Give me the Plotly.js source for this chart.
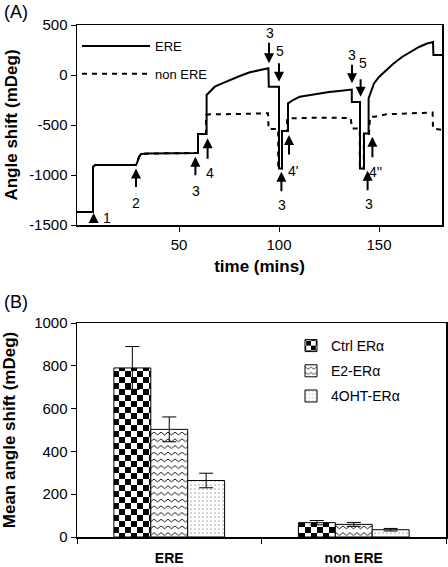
<!DOCTYPE html>
<html>
<head>
<meta charset="utf-8">
<script src="https://cdn.plot.ly/plotly-3.0.1.min.js"></script>
<style>
  html, body { margin: 0; padding: 0; background: #fff; }
  #chart { width: 448px; height: 567px; }
</style>
</head>
<body>
<div id="chart"></div>
<script>
// ---------- Panel A data (time in mins, angle shift in mDeg) ----------
const ereTime = [-1, 7, 7, 8, 28.5, 29, 30, 31, 35, 45, 59.5, 59.5, 63.8, 63.8, 65.4, 67.9, 70.4, 75.4, 80.4, 85.4, 90.4, 94.7, 94.9, 100, 100, 101.5, 101.5, 104.5, 104.5, 107, 110.4, 115, 120, 125, 130, 135, 136.4, 136.4, 140.5, 140.5, 142.5, 142.5, 144.8, 144.8, 147.5, 150, 153.5, 157, 161.5, 166, 170, 174, 177, 177.2, 181.5];
const ereShift = [-1370, -1370, -920, -900, -900, -880, -820, -790, -785, -780, -780, -590, -590, -200, -167, -117, -93, -50, -10, 27, 50, 67, -117, -117, -935, -935, -560, -560, -283, -250, -217, -200, -185, -170, -160, -145, -145, -270, -270, -935, -935, -585, -585, -235, -85, -20, 45, 110, 180, 235, 280, 315, 330, 200, 200];

const nonEreTime = [-1, 7, 7, 8, 28.5, 29, 30, 31, 35, 45, 59.5, 59.5, 63.5, 63.5, 65.4, 80, 94.5, 94.8, 99.6, 99.6, 101.5, 101.5, 104, 104, 105, 120, 135.8, 136.6, 140.4, 140.4, 142.4, 142.4, 145, 145.5, 147.7, 153.7, 165, 173.7, 176.8, 177, 181.5];
const nonEreShift = [-1370, -1370, -920, -900, -900, -880, -820, -790, -785, -780, -780, -590, -590, -400, -393, -390, -383, -540, -540, -935, -935, -560, -560, -440, -433, -427, -430, -535, -535, -935, -935, -590, -590, -420, -417, -393, -385, -373, -375, -535, -550];

const timeTicks = [50, 100, 150];
const shiftTickVals = [-1500, -1000, -500, 0, 500];
const shiftTickText = ['-1500', '-1000', '-500', '0', '500'];

// Arrow markers on panel A: tip time, tip value, direction (1 = pointing up), length in px
const arrowTime = [7.3, 28.5, 58.2, 64.3, 95, 100, 101.2, 105, 136.5, 140.8, 144.3, 146.7];
const arrowTip  = [-1380, -935, -817, -633, 117, -67, -967, -600, -83, -217, -957, -617];
const arrowDir  = [1, 1, 1, 1, -1, -1, 1, 1, -1, -1, 1, 1];
const arrowLen  = [10, 20, 20, 22, 22, 20, 21, 21, 20, 19, 21, 22];

const labelText  = ['1', '2', '3', '4', '3', '5', '3', "4'", '3', '5', '3', "4''"];
const labelTime  = [14.2, 28.4, 58.4, 65.7, 95.6, 100.4, 101.7, 106.9, 136.5, 142, 144.8, 148.3];
const labelShift = [-1430, -1280, -1160, -980, 417, 240, -1300, -957, 200, 117, -1290, -967];

// ---------- Panel B data ----------
const groups = ['ERE', 'non ERE'];
const seriesNames = ['Ctrl ER\u03b1', 'E2-ER\u03b1', '4OHT-ER\u03b1'];
const ctrlMean = [790, 67];
const ctrlErr  = [100, 10];
const e2Mean   = [503, 59];
const e2Err    = [58, 9];
const ohtMean  = [264, 34];
const ohtErr   = [34, 6];
const barTicks = [0, 200, 400, 600, 800, 1000];

const FONT = 'Liberation Sans, Arial, sans-serif';

const traces = [
  { x: ereTime, y: ereShift, type: 'scatter', mode: 'lines', name: 'ERE',
    line: { color: '#000', width: 2 }, xaxis: 'x', yaxis: 'y',
    legend: 'legend', legendgroup: 'a' },
  { x: nonEreTime, y: nonEreShift, type: 'scatter', mode: 'lines', name: 'non ERE',
    line: { color: '#000', width: 2, dash: '5px,5px' }, xaxis: 'x', yaxis: 'y',
    legend: 'legend', legendgroup: 'b' }
];

const barStyles = [
  { shape: '.', size: 8, solidity: 0.5, fgcolor: '#000', bgcolor: '#fff' },
  { shape: '-', size: 6, solidity: 0.22, fgcolor: '#000', bgcolor: '#fff' },
  { shape: '.', size: 4, solidity: 0.07, fgcolor: '#444', bgcolor: '#fff' }
];
const barMeans = [ctrlMean, e2Mean, ohtMean];
const barErrs = [ctrlErr, e2Err, ohtErr];
for (let i = 0; i < 3; i++) {
  traces.push({
    x: groups, y: barMeans[i], type: 'bar', name: seriesNames[i],
    xaxis: 'x2', yaxis: 'y2', legend: 'legend2', legendgroup: 'g' + i,
    marker: { color: '#fff', line: { color: '#000', width: 1 }, pattern: barStyles[i] },
    error_y: { type: 'data', array: barErrs[i], visible: true, color: '#000', thickness: 1, width: 7 }
  });
}

const M = { l: 77, r: 2, t: 25, b: 30 };
const PW = 448 - M.l - M.r, PH = 567 - M.t - M.b;

const annotations = [];
for (let i = 0; i < arrowTime.length; i++) {
  annotations.push({
    x: arrowTime[i], y: arrowTip[i], xref: 'x', yref: 'y', text: '',
    showarrow: true, arrowhead: 2, arrowsize: 1, arrowwidth: 2, arrowcolor: '#000',
    ax: 0, ay: arrowDir[i] * arrowLen[i], standoff: 0
  });
  annotations.push({
    x: labelTime[i], y: labelShift[i], xref: 'x', yref: 'y', text: labelText[i],
    showarrow: false, font: { family: FONT, size: 14, color: '#000' }
  });
}
[['(A)', 11.5], ['(B)', 302]].forEach(([txt, py]) => {
  annotations.push({ x: (2 - M.l) / PW, y: (567 - M.b - py) / PH, xref: 'paper', yref: 'paper',
    xanchor: 'left', yanchor: 'middle', text: txt, showarrow: false,
    font: { family: FONT, size: 18, color: '#000' } });
});

const axisCommon = {
  showline: true, linecolor: '#000', linewidth: 1.5, mirror: true,
  ticks: 'outside', ticklen: 5, tickwidth: 1, tickcolor: '#000',
  showgrid: false, zeroline: false,
  tickfont: { family: FONT, size: 15, color: '#000' }
};
const titleFont = { family: FONT, size: 17, weight: 'bold', color: '#000' };

const layout = {
  width: 448, height: 567,
  margin: M,
  paper_bgcolor: '#fff', plot_bgcolor: '#fff',
  font: { family: FONT, color: '#000' },
  showlegend: true,
  barmode: 'group', bargap: 0.4, bargroupgap: 0,
  xaxis: Object.assign({}, axisCommon, {
    domain: [0, (442 - 77) / PW], anchor: 'y', range: [-1, 181.5],
    tickmode: 'array', tickvals: timeTicks,
    title: { text: 'time (mins)', font: titleFont, standoff: 8 }
  }),
  yaxis: Object.assign({}, axisCommon, {
    domain: [1 - 200 / PH, 1], anchor: 'x', range: [-1500, 500],
    tickmode: 'array', tickvals: shiftTickVals, ticktext: shiftTickText,
    title: { text: 'Angle shift (mDeg)', font: titleFont, standoff: 7 }
  }),
  xaxis2: Object.assign({}, axisCommon, {
    domain: [0, 1], anchor: 'y2', type: 'category',
    tickson: 'boundaries', ticklabelstandoff: 8,
    tickfont: { family: FONT, size: 14, weight: 'bold', color: '#000' }
  }),
  yaxis2: Object.assign({}, axisCommon, {
    domain: [0, 214 / PH], anchor: 'x2', range: [0, 1000],
    tickmode: 'array', tickvals: barTicks,
    title: { text: 'Mean angle shift (mDeg)', font: titleFont, standoff: 20 }
  }),
  legend: {
    x: 0, y: (567 - M.b - 31) / PH, xanchor: 'left', yanchor: 'top',
    bgcolor: 'rgba(0,0,0,0)', borderwidth: 0,
    itemwidth: 68, traceorder: 'grouped', tracegroupgap: 8,
    font: { family: FONT, size: 13, color: '#000' }
  },
  legend2: {
    x: (291 - 77) / PW, y: (567 - M.b - 330) / PH, xanchor: 'left', yanchor: 'top',
    bgcolor: 'rgba(0,0,0,0)', borderwidth: 0,
    traceorder: 'grouped', tracegroupgap: 4,
    font: { family: FONT, size: 14, color: '#000' }
  },
  annotations: annotations
};

// Checkerboard (Ctrl) and zig-zag (E2) fills, restyling the library's own bar patterns.
function restylePatterns(gd) {
  const NS = 'http://www.w3.org/2000/svg';
  const mk = (tag, attrs) => {
    const el = document.createElementNS(NS, tag);
    Object.keys(attrs).forEach(k => el.setAttribute(k, attrs[k]));
    return el;
  };
  gd.querySelectorAll('pattern').forEach(p => {
    const c = p.querySelector('circle');
    const path = p.querySelector('path');
    if (c && +c.getAttribute('r') > 2) {
      const s = 6;
      p.setAttribute('width', 2 * s); p.setAttribute('height', 2 * s);
      while (p.firstChild) p.removeChild(p.firstChild);
      p.appendChild(mk('rect', { x: 0, y: 0, width: 2 * s, height: 2 * s, fill: '#fff' }));
      p.appendChild(mk('rect', { x: 0, y: 0, width: s, height: s, fill: '#000' }));
      p.appendChild(mk('rect', { x: s, y: s, width: s, height: s, fill: '#000' }));
    } else if (path && !c) {
      const w = 7, h = 6.7;
      p.setAttribute('width', w); p.setAttribute('height', h);
      while (p.firstChild) p.removeChild(p.firstChild);
      p.appendChild(mk('rect', { x: 0, y: 0, width: w, height: h, fill: '#fff' }));
      p.appendChild(mk('path', { d: 'M-0.5,1.7L0,2L3.5,4.7L7,2L7.5,1.7', stroke: '#000', 'stroke-width': 0.9, fill: 'none' }));
    }
  });
}

Plotly.newPlot('chart', traces, layout, { staticPlot: true, displayModeBar: false })
  .then(gd => restylePatterns(gd));
</script>
</body>
</html>
